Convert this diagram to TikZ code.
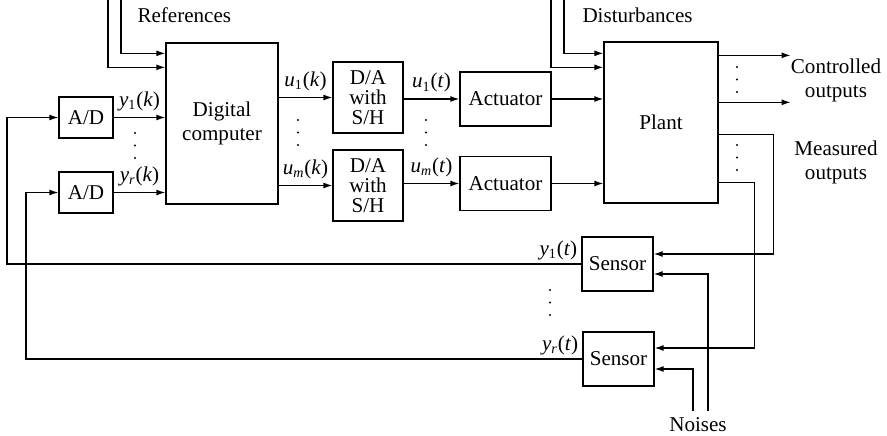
\documentclass[tikz,border=0pt]{standalone}
\usepackage{fontspec}
\setmainfont{Liberation Serif}
\usetikzlibrary{arrows.meta}
\newcommand{\sig}[3]{\textit{#1}\textsubscript{#2}(\textit{#3})}

\begin{document}
\begin{tikzpicture}[x=0.02cm, y=-0.02cm, line width=0.75pt,
	every node/.style={font=\fontsize{12}{13.6}\selectfont},
	>={Latex[length=1.8mm, width=1.2mm]},
	block/.style={draw, align=center, inner sep=1pt}]
	\useasboundingbox (0,0) rectangle (887,436);
	% blocks
	\node[block, minimum width=2.24cm, minimum height=3.22cm] (comp) at (222,123.5) {Digital\\computer};
	\node[block, minimum width=1.08cm, minimum height=0.82cm] (ad1) at (86,117.5) {A/D};
	\node[block, minimum width=1.08cm, minimum height=0.82cm] (ad2) at (86,192.5) {A/D};
	\node[block, minimum width=1.4cm, minimum height=1.42cm, font=\fontsize{12}{11.3}\selectfont] (da1) at (368,97.5) {D/A\\with\\S/H};
	\node[block, minimum width=1.4cm, minimum height=1.42cm, font=\fontsize{12}{11.3}\selectfont] (da2) at (368,185.5) {D/A\\with\\S/H};
	\node[block, minimum width=1.82cm, minimum height=1.08cm] (act1) at (505.5,99) {Actuator};
	\node[block, minimum width=1.82cm, minimum height=1.08cm] (act2) at (505.5,183.5) {Actuator};
	\node[block, minimum width=2.28cm, minimum height=3.22cm] (plant) at (661,122.5) {Plant};
	\node[block, minimum width=1.42cm, minimum height=1.08cm] (sen1) at (617.5,264) {Sensor};
	\node[block, minimum width=1.42cm, minimum height=1.08cm] (sen2) at (618.5,359) {Sensor};
	% outside texts
	\node[anchor=west] (ref) at (131,15) {References};
	\node[anchor=west] (dist) at (576,15) {Disturbances};
	\node[align=center] (ctrl) at (836,80) {Controlled\\outputs};
	\node[align=center] (meas) at (836,162) {Measured\\outputs};
	\node (noi) at (698,425) {Noises};
	\coordinate (r1) at (108,0);
	\coordinate (r2) at (121,0);
	\coordinate (d1) at (551,0);
	\coordinate (d2) at (564,0);
	\coordinate (fb1) at (7,0);
	\coordinate (fb2) at (26,0);
	% references and disturbances
	\draw[->] (r1) |- ([yshift=-0.5cm]comp.north west);
	\draw[->] (r2) |- ([yshift=-0.22cm]comp.north west);
	\draw[->] (d1) |- ([yshift=-0.52cm]plant.north west);
	\draw[->] (d2) |- ([yshift=-0.24cm]plant.north west);
	% forward path
	\draw[->] (ad1.east) -- (ad1.east -| comp.west) node[midway, above] {\sig{y}{1}{k}};
	\draw[->] (ad2.east) -- (ad2.east -| comp.west) node[midway, above] {\sig{y}{\textit{r}}{k}};
	\draw[->] (comp.east |- da1) -- (da1.west) node[midway, above] {\sig{u}{1}{k}};
	\draw[->] (comp.east |- da2) -- (da2.west) node[midway, above] {\sig{u}{\textit{m}}{k}};
	\draw[->] (da1.east |- act1) -- (act1.west) node[midway, above] {\sig{u}{1}{t}};
	\draw[->] (da2.east |- act2) -- (act2.west) node[midway, above] {\sig{u}{\textit{m}}{t}};
	\draw[->] (act1.east) -- (act1.east -| plant.west);
	\draw[->] (act2.east) -- (act2.east -| plant.west);
	% outputs
	\draw[->] ([yshift=-0.28cm]plant.north east) -- ++(72,0);
	\draw[->] ([yshift=-1.22cm]plant.north east) -- ++(72,0);
	\draw[->] ([yshift=-1.86cm]plant.north east) -- ++(55,0) |- ([yshift=0.2cm]sen1.east);
	\draw[->] ([yshift=-2.82cm]plant.north east) -- ++(36,0) |- ([yshift=0.22cm]sen2.east);
	% noises
	\draw[->] ([xshift=0.2cm]noi.north) |- ([yshift=-0.2cm]sen1.east);
	\draw[->] ([xshift=-0.1cm]noi.north) |- ([yshift=-0.2cm]sen2.east);
	% feedback
	\draw[->] (sen1.west) node[above left, inner sep=2pt] {\sig{y}{1}{t}} -- (sen1.west -| fb1) |- (ad1.west);
	\draw[->] (sen2.west) node[above left, inner sep=2pt] {\sig{y}{\textit{r}}{t}} -- (sen2.west -| fb2) |- (ad2.west);
	% dots
	\foreach \x/\y in {135/133, 298/120, 426/120, 737/67, 737/145, 550/290}
		\foreach \k in {0,1,2}
			\fill (\x,\y+\k*12.5) circle (0.7pt);
\end{tikzpicture}
\end{document}
